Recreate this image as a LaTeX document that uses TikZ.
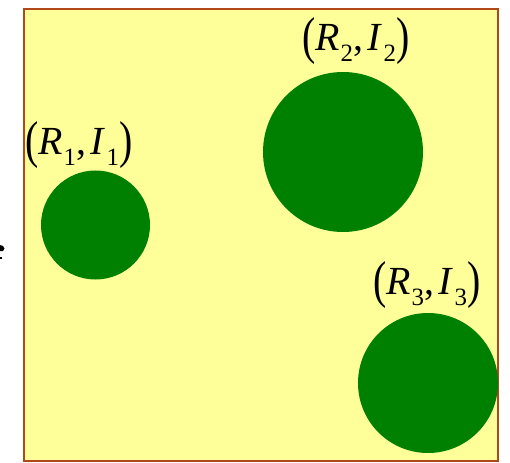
\documentclass[tikz,border=0pt]{standalone}
\usepackage{fontspec}
\setmainfont{Liberation Serif}
\usepackage{graphicx}
\definecolor{boxfill}{HTML}{FFFF99}
\definecolor{boxedge}{HTML}{B0481A}
\definecolor{blob}{HTML}{008000}
\newcommand\pairlbl[1]{{\fontsize{40}{44}\selectfont\raisebox{-0.08em}{\scalebox{1}[1.3]{(}}\textit{R}\kern0.01em\raisebox{-0.28em}{\fontsize{25}{28}\selectfont #1},\kern0.12em\textit{I}\kern0.02em\raisebox{-0.28em}{\fontsize{25}{28}\selectfont #1}\raisebox{-0.08em}{\scalebox{1}[1.3]{)}}}}
\begin{document}
\begin{tikzpicture}[x=1bp,y=-1bp,
  blobstyle/.style={circle,fill=blob,inner sep=0pt,draw=none},
  lblstyle/.style={inner sep=0pt,text=black}]
\useasboundingbox (0,0) rectangle (510,463);
\draw[fill=boxfill,draw=boxedge,line width=2.2bp] (24,9) rectangle (498,461);
\node[blobstyle,minimum size=109bp] (c1) at (95.5,225) {};
\node[blobstyle,minimum size=160bp] (c2) at (343,152) {};
\node[blobstyle,minimum size=140bp] (c3) at (428,383) {};
\node[lblstyle] (l1) at (79,145) {\pairlbl{1}};
\node[lblstyle] (l2) at (356,41) {\pairlbl{2}};
\node[lblstyle] (l3) at (427,285) {\pairlbl{3}};
% cut-off fragment at the left edge
\fill[black] (0,245) -- (3,246) .. controls (5,247) and (5,250) .. (3,251) -- (0,251) -- cycle;
\fill[black] (0,256.5) rectangle (1.5,258.5);
\end{tikzpicture}
\end{document}
